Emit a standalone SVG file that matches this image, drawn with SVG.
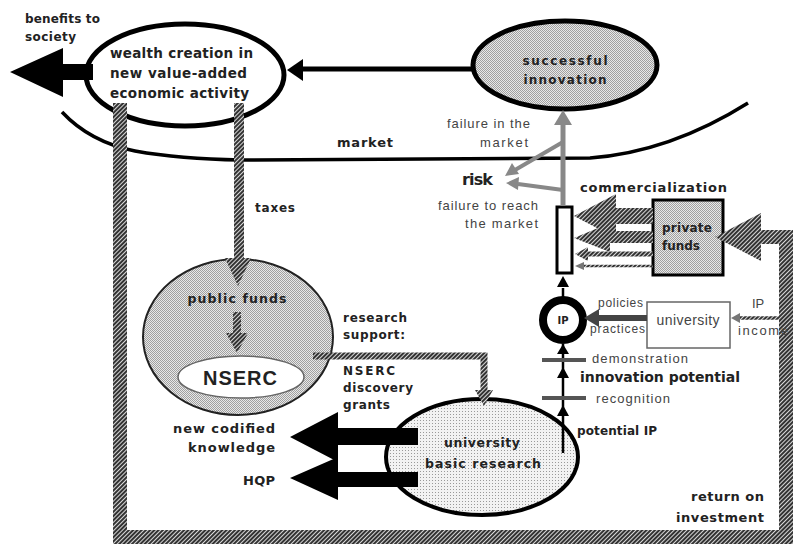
<svg xmlns="http://www.w3.org/2000/svg" width="793" height="544" viewBox="0 0 793 544">
<defs>
<pattern id="hatch" width="3" height="3" patternUnits="userSpaceOnUse" patternTransform="rotate(45)"><rect width="3" height="3" fill="#d8d8d8"/><rect width="2" height="3" fill="#333"/></pattern>
<pattern id="stip" width="2" height="2" patternUnits="userSpaceOnUse"><rect width="2" height="2" fill="#e8e8e8"/><rect width="1" height="1" fill="#a0a0a0"/><rect x="1" y="1" width="1" height="1" fill="#a0a0a0"/></pattern>
<pattern id="dots" width="3" height="3" patternUnits="userSpaceOnUse"><rect width="3" height="3" fill="#f2f2f2"/><rect width="1" height="1" fill="#999"/></pattern>
</defs>
<style>
.b{font-family:"DejaVu Sans",Verdana,sans-serif;font-weight:bold;fill:#222}
.n{font-family:"DejaVu Sans",Verdana,sans-serif;font-weight:bold;fill:#222}
.g{font-family:"Liberation Sans",Arial,sans-serif;fill:#444}
.hs{fill:none;stroke:url(#hatch)}
.hf{fill:url(#hatch)}
</style>
<rect width="793" height="544" fill="#fff"/>

<!-- market curve -->
<path d="M62,112 Q90,142 135,151 Q180,159 240,160 L590,158 Q670,152 748,103" fill="none" stroke="#000" stroke-width="3.5"/>
<text class="b" x="337" y="147" font-size="13" textLength="56">market</text>

<g id="wealth">
<ellipse cx="185" cy="75" rx="99" ry="51" fill="#fff" stroke="#000" stroke-width="5"/>
<text class="b" x="110" y="58" font-size="13.5" textLength="143">wealth creation in</text>
<text class="b" x="110" y="78" font-size="13.5" textLength="137">new value-added</text>
<text class="b" x="110" y="98" font-size="13.5" textLength="139">economic activity</text>
</g>

<g id="success">
<ellipse cx="565" cy="65" rx="92" ry="44" fill="url(#stip)" stroke="#000" stroke-width="5"/>
<text class="b" x="565" y="65" font-size="12" text-anchor="middle" textLength="85">successful</text>
<text class="b" x="565" y="84" font-size="12" text-anchor="middle" textLength="83">innovation</text>
</g>

<g id="public">
<ellipse cx="238" cy="337" rx="95" ry="78" fill="url(#stip)" stroke="#222" stroke-width="2"/>
<text class="n" x="237" y="303" font-size="12.5" text-anchor="middle" textLength="99">public funds</text>
</g>

<g id="nserc">
<ellipse cx="241" cy="377" rx="63" ry="21" fill="#fff" stroke="#666" stroke-width="1.5"/>
<text x="240" y="385" font-family="Liberation Sans, Arial, sans-serif" font-weight="bold" fill="#222" font-size="20" text-anchor="middle" textLength="74">NSERC</text>
</g>

<g id="ubr">
<ellipse cx="482" cy="457" rx="96" ry="58" fill="url(#dots)" stroke="#000" stroke-width="4"/>
<text class="n" x="482" y="447" font-size="12.5" text-anchor="middle" textLength="76">university</text>
<text class="n" x="483" y="468" font-size="12.5" text-anchor="middle" textLength="116">basic research</text>
</g>

<g id="commercialization">
<rect x="557" y="207" width="15" height="66" fill="#fff" stroke="#000" stroke-width="3"/>
<text class="b" x="580" y="192" font-size="13" textLength="147">commercialization</text>
</g>

<g id="private">
<rect x="653" y="200" width="70" height="75" fill="url(#stip)" stroke="#000" stroke-width="3"/>
<text class="n" x="662" y="232" font-size="12" fill="#333" textLength="50">private</text>
<text class="n" x="662" y="250" font-size="12" fill="#333" textLength="38">funds</text>
</g>

<g id="ip">
<circle cx="563" cy="320" r="20" fill="#fff" stroke="#000" stroke-width="8"/>
<text class="n" x="563" y="324" font-size="10" text-anchor="middle">IP</text>
</g>

<g id="university">
<rect x="647" y="302" width="83" height="46" fill="#fff" stroke="#666" stroke-width="1.5"/>
<text class="g" x="688" y="325" font-size="14" text-anchor="middle" textLength="63">university</text>
</g>

<g id="connectors">
<!-- return on investment loop -->
<path class="hs" d="M120,103 V537 H786 V237 H758" stroke-width="14" stroke-linejoin="miter"/>
<polygon class="hf" points="715,237 761,213 761,261"/>
<!-- taxes -->
<path class="hs" d="M239,103 V262" stroke-width="10"/>
<polygon class="hf" points="238,286 225,258 251,258"/>
<!-- public funds -> NSERC -->
<path class="hs" d="M237,312 V336" stroke-width="8"/>
<polygon class="hf" points="237,353 226,333 248,333"/>
<!-- research support -->
<path class="hs" d="M313,356 H484 V392" stroke-width="7" stroke-linejoin="miter"/>
<polygon class="hf" points="484,406 475,390 493,390"/>
<!-- private funds -> commercialization -->
<polygon class="hf" points="574,216 616,194 616,208 653,208 653,224 616,224 616,238"/>
<polygon class="hf" points="574,238 610,223 610,231 653,231 653,243 610,243 610,252"/>
<path class="hs" d="M653,254 H585" stroke-width="5"/>
<polygon class="hf" points="575,254 588,247 588,261"/>
<path class="hs" d="M653,266 H582" stroke-width="2.5"/>
<polygon points="575,266 584,262 584,270" fill="#777"/>
<!-- IP income -->
<path class="hs" d="M786,318 H738" stroke-width="3.5"/>
<polygon points="731,318 740,313 740,323" fill="#777"/>
<!-- policies / practices -->
<path d="M647,318 H596" stroke="#444" stroke-width="6"/>
<polygon points="584,318 599,309 599,327" fill="#444"/>
<!-- successful innovation -> wealth -->
<path d="M472,69 H300" stroke="#000" stroke-width="5"/>
<polygon points="287,70 303,59 303,81" fill="#000"/>
<!-- benefits to society -->
<polygon points="10,72 63,48 63,64 93,64 93,80 63,80 63,97" fill="#000"/>
<!-- new codified knowledge, HQP -->
<polygon points="290,437 338,412 338,428 418,428 418,445 338,445 338,462" fill="#000"/>
<polygon points="290,478 338,457 338,472 418,472 418,487 338,487 338,500" fill="#000"/>
<!-- vertical innovation axis -->
<path d="M563,453 V344" stroke="#000" stroke-width="2.5"/>
<polygon points="563,405 557,416 569,416" fill="#000"/>
<polygon points="563,367 557,378 569,378" fill="#000"/>
<polygon points="563,344 557,354 569,354" fill="#000"/>
<path d="M563,300 V288" stroke="#000" stroke-width="2.5"/>
<polygon points="563,276 557,287 569,287" fill="#000"/>
<rect x="542" y="396" width="44" height="4" fill="#555"/>
<rect x="542" y="358" width="44" height="4" fill="#555"/>
<!-- commercialization -> successful innovation / risk -->
<path d="M563,206 V122" stroke="#888" stroke-width="5"/>
<polygon points="563,110 554,125 572,125" fill="#888"/>
<path d="M563,142 L515,170" stroke="#888" stroke-width="4"/>
<polygon points="505,176 512,163 519,174" fill="#888"/>
<path d="M563,190 L518,184" stroke="#888" stroke-width="4"/>
<polygon points="506,183 519,177 518,190" fill="#888"/>
</g>

<!-- labels -->
<text class="n" x="25" y="23" font-size="12" textLength="75">benefits to</text>
<text class="n" x="25" y="41" font-size="12" textLength="51">society</text>
<text class="b" x="255" y="212" font-size="12" font-weight="normal" textLength="40">taxes</text>
<text class="g" x="530" y="128" font-size="13" text-anchor="end" textLength="83">failure in the</text>
<text class="g" x="528" y="147" font-size="13" text-anchor="end" textLength="48">market</text>
<text class="b" x="462" y="185" font-size="16" textLength="31">risk</text>
<text class="g" x="538" y="210" font-size="13" text-anchor="end" textLength="100">failure to reach</text>
<text class="g" x="538" y="228" font-size="13" text-anchor="end" textLength="73">the market</text>
<text class="g" x="598" y="307" font-size="12" textLength="45">policies</text>
<text class="g" x="590" y="333" font-size="12" textLength="55">practices</text>
<text class="g" x="752" y="308" font-size="13">IP</text>
<text class="g" x="738" y="335" font-size="13" textLength="50">income</text>
<text class="g" x="592" y="363" font-size="13" textLength="96">demonstration</text>
<text class="b" x="580" y="382" font-size="14" textLength="160">innovation potential</text>
<text class="g" x="596" y="403" font-size="13" textLength="74">recognition</text>
<text class="n" x="577" y="435" font-size="12" textLength="80">potential IP</text>
<text class="n" x="343" y="322" font-size="12" textLength="64">research</text>
<text class="n" x="343" y="339" font-size="12" textLength="62">support:</text>
<text class="n" x="343" y="375" font-size="12" textLength="52">NSERC</text>
<text class="n" x="343" y="392" font-size="12" textLength="70">discovery</text>
<text class="n" x="343" y="409" font-size="12" textLength="47">grants</text>
<text class="b" x="275" y="433" font-size="13" text-anchor="end" textLength="102">new codified</text>
<text class="b" x="275" y="452" font-size="13" text-anchor="end" textLength="87">knowledge</text>
<text class="n" x="275" y="485" font-size="13" text-anchor="end" textLength="32">HQP</text>
<text class="b" x="764" y="501" font-size="13" text-anchor="end" textLength="73">return on</text>
<text class="b" x="764" y="522" font-size="13" text-anchor="end" textLength="88">investment</text>
</svg>
